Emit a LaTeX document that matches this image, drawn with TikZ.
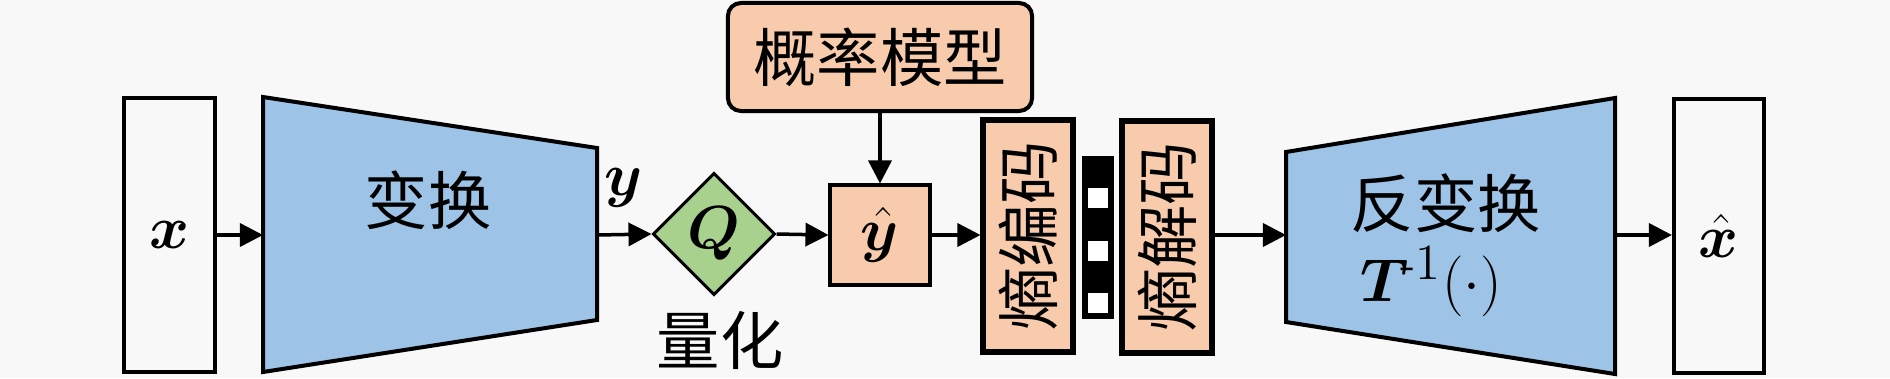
\documentclass[tikz,border=0pt]{standalone}
\usepackage{fontspec}
\usepackage{amsmath}
\usepackage{bm}
\newfontfamily\cjk{Noto Sans CJK SC}
\usetikzlibrary{arrows.meta,shapes.geometric}
\definecolor{bgc}{HTML}{F8F8F8}
\definecolor{blu}{HTML}{9DC3E6}
\definecolor{grn}{HTML}{A9D18E}
\definecolor{pch}{HTML}{F8CBAD}
\begin{document}
\begin{tikzpicture}[x=0.01cm,y=-0.01cm,
  txt/.style={font=\fontsize{18}{22}\selectfont\cjk, inner sep=0pt},
  arr/.style={line width=0.035cm, -{Triangle[length=0.23cm,width=0.23cm]}},
  iobox/.style={draw, line width=0.04cm, fill=bgc, minimum width=0.9cm, minimum height=2.74cm, inner sep=0pt, font=\fontsize{19}{22}\selectfont},
  trap/.style={draw, line width=0.04cm, fill=blu, line join=miter},
  pbox/.style={draw, line width=0.04cm, fill=pch, inner sep=0pt, font=\fontsize{18}{22}\selectfont\cjk},
  codebox/.style={draw, line width=0.06cm, fill=pch, minimum width=0.89cm, minimum height=2.32cm, inner sep=0pt},
  hole/.style={fill=white, minimum size=0.2cm, inner sep=0pt}]
\fill[bgc] (0,0) rectangle (1890,378);
\useasboundingbox (0,0) rectangle (1890,378);

% input
\node[iobox] (xin) at (169.5,235) {$\bm{x}$};

% encoder transform
\coordinate (eTL) at (263,97);
\coordinate (eTR) at (597,148);
\coordinate (eBR) at (597,320);
\coordinate (eBL) at (263,372);
\coordinate (encL) at (263,235);
\coordinate (encR) at (597,235);
\draw[trap] (eTL) -- (eTR) -- (eBR) -- (eBL) -- cycle;
\node[txt] (enct) at (428,200) {变换};

\node[txt, font=\fontsize{19}{22}\selectfont] (ylab) at (624,188) {$\bm{y}$};

% quantizer
\node[diamond, draw, fill=grn, line width=0.03cm, minimum width=1.22cm, minimum height=1.22cm, inner sep=0pt, font=\fontsize{19}{22}\selectfont] (q) at (714,234) {$\bm{Q}$};
\node[txt] (qlab) at (720,340) {量化};

% y hat
\node[pbox, minimum size=0.99cm, font=\fontsize{19}{22}\selectfont] (yh) at (880,235) {$\hat{\bm{y}}$};

% probability model
\node[pbox, rounded corners=0.13cm, minimum width=3.04cm, minimum height=1.08cm] (pm) at (880,57) {概率模型};

% entropy coder / decoder
\node[codebox] (ee) at (1028,236) {};
\node[txt, rotate=90] (eet) at (ee) {熵编码};
\node[fill=black, minimum width=0.32cm, minimum height=1.63cm, inner sep=0pt] (st) at (1098,237.5) {};
\node[hole] (h1) at (1098,198) {};
\node[hole] (h2) at (1098,251) {};
\node[hole] (h3) at (1098,303) {};
\node[codebox] (dd) at (1167,237) {};
\node[txt, rotate=90] (ddt) at (dd) {熵解码};

% decoder transform
\coordinate (dTL) at (1286,152);
\coordinate (dTR) at (1615,98);
\coordinate (dBR) at (1615,374);
\coordinate (dBL) at (1286,322);
\coordinate (decL) at (1286,235);
\coordinate (decR) at (1615,235);
\draw[trap] (dTL) -- (dTR) -- (dBR) -- (dBL) -- cycle;
\node[txt, anchor=west] (dect1) at (1350,203) {反变换};
\node[txt, anchor=west, font=\fontsize{19}{22}\selectfont] (dect2) at (1360,282) {$\bm{T}^{\!\text{-}1}(\cdot)$};

% output
\node[iobox] (xout) at (1719,236) {$\hat{\bm{x}}$};

% connectors
\draw[arr] (xin.east) -- (encL);
\draw[arr] (encR) -- (q.west);
\draw[arr] (q.east) -- (yh.west);
\draw[arr] (pm.south) -- (yh.north);
\draw[arr] (yh.east) -- (yh.east -| ee.west);
\draw[arr] (decR) -- (decR -| xout.west);
\draw[arr] (dd.east |- decL) -- (decL);
\end{tikzpicture}
\end{document}
